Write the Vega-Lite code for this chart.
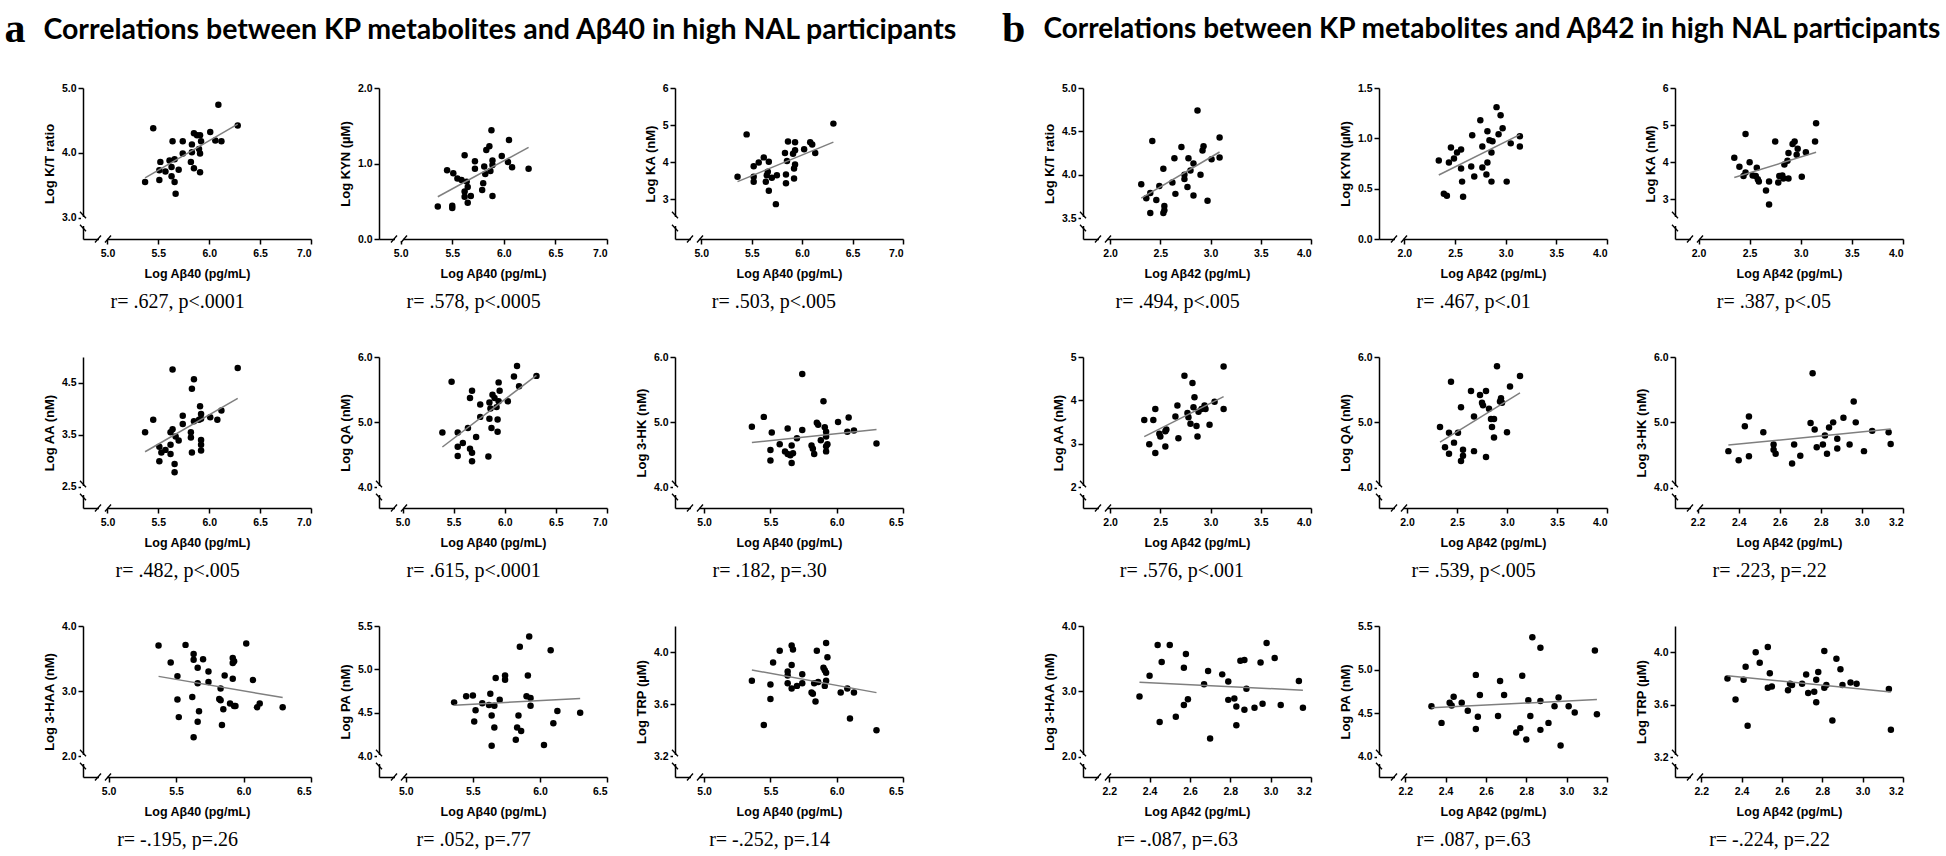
{
  "$schema": "https://vega.github.io/schema/vega-lite/v6.json",
  "padding": {"left": 4, "top": 7, "right": 0, "bottom": 0},
  "background": "white",
  "config": {
    "view": {"stroke": null},
    "axis": {"grid": false, "domainColor": "black", "domainWidth": 1.5, "tickColor": "black", "tickWidth": 1.5, "tickSize": 5,
      "labelFont": "Liberation Sans", "labelFontWeight": "bold", "labelFontSize": 10.5, "labelColor": "black",
      "titleFont": "Liberation Sans", "titleFontWeight": "bold", "titleColor": "black"},
    "axisX": {"titleFontSize": 12.5, "titlePadding": 9, "labelPadding": 4},
    "axisY": {"titleFontSize": 13, "titlePadding": 5, "labelPadding": 2}
  },
  "datasets": {
    "a1": [{"x":5.37,"y":3.55},{"x":5.45,"y":4.38},{"x":5.52,"y":3.86},{"x":5.51,"y":3.73},{"x":5.51,"y":3.58},{"x":5.57,"y":3.71},{"x":5.61,"y":3.88},{"x":5.64,"y":4.18},{"x":5.63,"y":3.78},{"x":5.63,"y":3.64},{"x":5.66,"y":3.90},{"x":5.66,"y":3.55},{"x":5.67,"y":3.37},{"x":5.70,"y":3.74},{"x":5.74,"y":4.18},{"x":5.74,"y":3.99},{"x":5.82,"y":3.86},{"x":5.83,"y":4.13},{"x":5.83,"y":4.01},{"x":5.85,"y":3.76},{"x":5.85,"y":4.30},{"x":5.88,"y":4.27},{"x":5.90,"y":4.06},{"x":5.91,"y":4.27},{"x":5.92,"y":4.18},{"x":5.91,"y":3.99},{"x":5.91,"y":3.70},{"x":6.01,"y":4.32},{"x":6.06,"y":4.19},{"x":6.09,"y":4.74},{"x":6.12,"y":4.18},{"x":6.28,"y":4.42}],
    "a2": [{"x":5.36,"y":0.43},{"x":5.45,"y":0.91},{"x":5.50,"y":0.44},{"x":5.50,"y":0.41},{"x":5.51,"y":0.87},{"x":5.55,"y":0.80},{"x":5.59,"y":0.78},{"x":5.62,"y":0.63},{"x":5.62,"y":0.56},{"x":5.62,"y":1.11},{"x":5.64,"y":0.76},{"x":5.65,"y":0.69},{"x":5.65,"y":0.48},{"x":5.68,"y":0.57},{"x":5.72,"y":1.03},{"x":5.72,"y":0.93},{"x":5.79,"y":0.65},{"x":5.80,"y":0.74},{"x":5.81,"y":0.96},{"x":5.82,"y":0.86},{"x":5.83,"y":1.18},{"x":5.86,"y":1.23},{"x":5.87,"y":0.90},{"x":5.88,"y":1.44},{"x":5.89,"y":0.57},{"x":5.89,"y":1.04},{"x":5.89,"y":0.98},{"x":5.98,"y":1.10},{"x":6.04,"y":1.02},{"x":6.05,"y":1.31},{"x":6.08,"y":0.95},{"x":6.24,"y":0.93}],
    "a3": [{"x":5.36,"y":3.61},{"x":5.45,"y":4.75},{"x":5.52,"y":3.89},{"x":5.52,"y":3.61},{"x":5.52,"y":3.47},{"x":5.57,"y":3.99},{"x":5.62,"y":4.13},{"x":5.64,"y":3.47},{"x":5.65,"y":3.65},{"x":5.66,"y":3.74},{"x":5.67,"y":4.01},{"x":5.67,"y":3.23},{"x":5.70,"y":3.58},{"x":5.74,"y":2.87},{"x":5.75,"y":3.65},{"x":5.83,"y":4.25},{"x":5.84,"y":3.43},{"x":5.84,"y":3.67},{"x":5.85,"y":4.03},{"x":5.86,"y":4.56},{"x":5.91,"y":4.23},{"x":5.92,"y":3.83},{"x":5.92,"y":3.56},{"x":5.93,"y":4.32},{"x":5.93,"y":4.54},{"x":5.93,"y":3.94},{"x":6.02,"y":4.35},{"x":6.08,"y":4.54},{"x":6.10,"y":4.48},{"x":6.13,"y":4.25},{"x":6.31,"y":5.04}],
    "a4": [{"x":5.37,"y":3.55},{"x":5.45,"y":3.79},{"x":5.51,"y":3.27},{"x":5.51,"y":2.99},{"x":5.53,"y":3.16},{"x":5.57,"y":3.21},{"x":5.62,"y":3.55},{"x":5.62,"y":3.31},{"x":5.62,"y":3.13},{"x":5.64,"y":4.76},{"x":5.64,"y":3.61},{"x":5.66,"y":2.94},{"x":5.66,"y":2.78},{"x":5.67,"y":3.47},{"x":5.70,"y":3.39},{"x":5.74,"y":3.71},{"x":5.74,"y":3.87},{"x":5.82,"y":3.55},{"x":5.82,"y":3.45},{"x":5.83,"y":3.16},{"x":5.83,"y":4.39},{"x":5.85,"y":3.76},{"x":5.85,"y":4.57},{"x":5.90,"y":3.79},{"x":5.91,"y":4.05},{"x":5.92,"y":3.90},{"x":5.92,"y":3.40},{"x":5.92,"y":3.31},{"x":5.92,"y":3.20},{"x":5.92,"y":3.81},{"x":6.01,"y":3.84},{"x":6.08,"y":3.79},{"x":6.12,"y":3.97},{"x":6.28,"y":4.79}],
    "a5": [{"x":5.39,"y":4.84},{"x":5.48,"y":5.62},{"x":5.54,"y":4.84},{"x":5.54,"y":4.62},{"x":5.54,"y":4.48},{"x":5.59,"y":4.68},{"x":5.64,"y":4.91},{"x":5.66,"y":5.37},{"x":5.66,"y":4.59},{"x":5.68,"y":5.48},{"x":5.68,"y":4.53},{"x":5.68,"y":4.40},{"x":5.72,"y":4.77},{"x":5.76,"y":5.27},{"x":5.76,"y":5.08},{"x":5.84,"y":4.47},{"x":5.85,"y":5.05},{"x":5.85,"y":5.30},{"x":5.86,"y":5.21},{"x":5.87,"y":4.91},{"x":5.88,"y":5.42},{"x":5.90,"y":5.37},{"x":5.92,"y":5.23},{"x":5.93,"y":5.04},{"x":5.93,"y":4.85},{"x":5.94,"y":5.61},{"x":5.95,"y":5.48},{"x":5.94,"y":5.32},{"x":6.03,"y":5.32},{"x":6.09,"y":5.70},{"x":6.12,"y":5.86},{"x":6.14,"y":5.55},{"x":6.31,"y":5.71}],
    "a6": [{"x":5.36,"y":4.93},{"x":5.45,"y":5.08},{"x":5.51,"y":4.84},{"x":5.50,"y":4.57},{"x":5.50,"y":4.41},{"x":5.57,"y":4.66},{"x":5.61,"y":4.55},{"x":5.63,"y":4.90},{"x":5.63,"y":4.51},{"x":5.65,"y":4.49},{"x":5.66,"y":4.64},{"x":5.66,"y":4.37},{"x":5.67,"y":4.52},{"x":5.70,"y":4.75},{"x":5.74,"y":4.88},{"x":5.74,"y":5.74},{"x":5.81,"y":4.64},{"x":5.82,"y":4.59},{"x":5.83,"y":4.51},{"x":5.85,"y":4.99},{"x":5.86,"y":4.96},{"x":5.88,"y":4.72},{"x":5.90,"y":5.32},{"x":5.91,"y":4.92},{"x":5.92,"y":4.85},{"x":5.92,"y":4.78},{"x":5.92,"y":4.63},{"x":5.92,"y":4.55},{"x":5.93,"y":4.66},{"x":6.01,"y":5.00},{"x":6.08,"y":4.85},{"x":6.09,"y":5.07},{"x":6.13,"y":4.87},{"x":6.30,"y":4.67}],
    "a7": [{"x":5.37,"y":3.70},{"x":5.46,"y":3.44},{"x":5.51,"y":3.23},{"x":5.51,"y":2.87},{"x":5.52,"y":2.60},{"x":5.57,"y":3.71},{"x":5.63,"y":3.57},{"x":5.63,"y":3.48},{"x":5.62,"y":2.91},{"x":5.63,"y":2.29},{"x":5.66,"y":3.36},{"x":5.66,"y":3.12},{"x":5.66,"y":2.53},{"x":5.67,"y":2.69},{"x":5.70,"y":3.49},{"x":5.74,"y":3.30},{"x":5.74,"y":3.14},{"x":5.82,"y":2.88},{"x":5.83,"y":2.86},{"x":5.83,"y":3.04},{"x":5.84,"y":2.48},{"x":5.85,"y":2.72},{"x":5.86,"y":3.24},{"x":5.90,"y":2.81},{"x":5.92,"y":3.51},{"x":5.92,"y":3.19},{"x":5.92,"y":3.43},{"x":5.93,"y":3.46},{"x":5.93,"y":2.77},{"x":5.94,"y":2.77},{"x":6.02,"y":3.73},{"x":6.07,"y":3.17},{"x":6.10,"y":2.75},{"x":6.12,"y":2.81},{"x":6.29,"y":2.75}],
    "a8": [{"x":5.36,"y":4.62},{"x":5.45,"y":4.69},{"x":5.50,"y":4.70},{"x":5.52,"y":4.53},{"x":5.51,"y":4.40},{"x":5.57,"y":4.61},{"x":5.62,"y":4.59},{"x":5.63,"y":4.72},{"x":5.64,"y":4.47},{"x":5.64,"y":4.12},{"x":5.66,"y":4.33},{"x":5.66,"y":4.58},{"x":5.67,"y":4.90},{"x":5.70,"y":4.65},{"x":5.74,"y":4.93},{"x":5.74,"y":4.88},{"x":5.82,"y":4.19},{"x":5.83,"y":4.33},{"x":5.84,"y":4.47},{"x":5.86,"y":4.29},{"x":5.85,"y":5.26},{"x":5.91,"y":4.93},{"x":5.90,"y":4.69},{"x":5.92,"y":5.38},{"x":5.93,"y":4.58},{"x":5.93,"y":4.67},{"x":6.03,"y":4.13},{"x":6.08,"y":5.22},{"x":6.10,"y":4.38},{"x":6.13,"y":4.52},{"x":6.30,"y":4.50}],
    "a9": [{"x":5.36,"y":3.78},{"x":5.45,"y":3.44},{"x":5.50,"y":3.75},{"x":5.50,"y":3.64},{"x":5.52,"y":3.92},{"x":5.57,"y":4.01},{"x":5.63,"y":3.85},{"x":5.63,"y":3.82},{"x":5.63,"y":3.76},{"x":5.66,"y":4.05},{"x":5.67,"y":4.02},{"x":5.66,"y":3.90},{"x":5.66,"y":3.72},{"x":5.70,"y":3.74},{"x":5.74,"y":3.83},{"x":5.74,"y":3.76},{"x":5.81,"y":3.69},{"x":5.82,"y":3.68},{"x":5.84,"y":3.62},{"x":5.83,"y":3.76},{"x":5.85,"y":4.01},{"x":5.86,"y":3.77},{"x":5.90,"y":3.88},{"x":5.91,"y":3.86},{"x":5.92,"y":4.07},{"x":5.93,"y":3.96},{"x":5.92,"y":3.84},{"x":5.92,"y":3.78},{"x":5.91,"y":3.74},{"x":6.03,"y":3.69},{"x":6.08,"y":3.72},{"x":6.10,"y":3.49},{"x":6.13,"y":3.69},{"x":6.30,"y":3.40}],
    "b1": [{"x":2.31,"y":3.89},{"x":2.36,"y":3.73},{"x":2.40,"y":3.79},{"x":2.40,"y":3.56},{"x":2.42,"y":4.39},{"x":2.46,"y":3.71},{"x":2.49,"y":3.87},{"x":2.53,"y":4.07},{"x":2.54,"y":3.64},{"x":2.53,"y":3.56},{"x":2.54,"y":3.59},{"x":2.62,"y":3.91},{"x":2.64,"y":4.19},{"x":2.65,"y":3.78},{"x":2.71,"y":4.32},{"x":2.74,"y":4.00},{"x":2.74,"y":3.95},{"x":2.77,"y":3.86},{"x":2.78,"y":4.19},{"x":2.80,"y":4.05},{"x":2.83,"y":4.13},{"x":2.83,"y":3.76},{"x":2.87,"y":4.74},{"x":2.90,"y":4.00},{"x":2.93,"y":4.33},{"x":2.92,"y":4.28},{"x":2.97,"y":3.70},{"x":3.01,"y":4.18},{"x":3.09,"y":4.43},{"x":3.09,"y":4.20}],
    "b2": [{"x":2.34,"y":0.78},{"x":2.39,"y":0.45},{"x":2.42,"y":0.43},{"x":2.44,"y":0.76},{"x":2.46,"y":0.91},{"x":2.49,"y":0.80},{"x":2.52,"y":0.86},{"x":2.56,"y":0.89},{"x":2.56,"y":0.70},{"x":2.57,"y":0.57},{"x":2.58,"y":0.42},{"x":2.67,"y":1.03},{"x":2.66,"y":0.72},{"x":2.69,"y":0.62},{"x":2.75,"y":1.18},{"x":2.77,"y":0.92},{"x":2.77,"y":0.71},{"x":2.81,"y":0.64},{"x":2.82,"y":1.07},{"x":2.82,"y":0.76},{"x":2.84,"y":0.98},{"x":2.87,"y":0.97},{"x":2.86,"y":0.86},{"x":2.86,"y":0.57},{"x":2.91,"y":1.31},{"x":2.93,"y":1.04},{"x":2.95,"y":1.23},{"x":2.97,"y":1.10},{"x":3.01,"y":0.57},{"x":3.05,"y":0.95},{"x":3.14,"y":1.02},{"x":3.14,"y":0.92}],
    "b3": [{"x":2.35,"y":4.12},{"x":2.40,"y":3.88},{"x":2.44,"y":3.63},{"x":2.46,"y":4.76},{"x":2.46,"y":3.72},{"x":2.50,"y":4.00},{"x":2.53,"y":3.64},{"x":2.57,"y":3.85},{"x":2.56,"y":3.63},{"x":2.58,"y":3.54},{"x":2.59,"y":3.48},{"x":2.66,"y":3.24},{"x":2.69,"y":2.86},{"x":2.69,"y":3.48},{"x":2.75,"y":4.56},{"x":2.78,"y":3.45},{"x":2.79,"y":3.63},{"x":2.82,"y":3.64},{"x":2.83,"y":3.56},{"x":2.84,"y":3.94},{"x":2.87,"y":4.04},{"x":2.88,"y":3.56},{"x":2.88,"y":4.25},{"x":2.92,"y":4.49},{"x":2.94,"y":4.56},{"x":2.96,"y":4.20},{"x":2.97,"y":4.36},{"x":3.01,"y":3.61},{"x":3.05,"y":4.27},{"x":3.14,"y":4.56},{"x":3.15,"y":5.05}],
    "b4": [{"x":2.34,"y":3.55},{"x":2.39,"y":2.99},{"x":2.43,"y":3.55},{"x":2.45,"y":3.80},{"x":2.45,"y":2.79},{"x":2.49,"y":3.23},{"x":2.50,"y":3.17},{"x":2.55,"y":3.29},{"x":2.56,"y":3.33},{"x":2.55,"y":2.94},{"x":2.65,"y":3.63},{"x":2.67,"y":3.88},{"x":2.68,"y":3.13},{"x":2.74,"y":4.57},{"x":2.77,"y":3.71},{"x":2.78,"y":3.61},{"x":2.80,"y":3.46},{"x":2.82,"y":4.40},{"x":2.83,"y":3.84},{"x":2.84,"y":4.07},{"x":2.86,"y":3.41},{"x":2.87,"y":3.17},{"x":2.88,"y":3.74},{"x":2.91,"y":3.80},{"x":2.94,"y":3.88},{"x":2.95,"y":3.80},{"x":2.99,"y":3.44},{"x":3.04,"y":3.97},{"x":3.13,"y":4.78},{"x":3.13,"y":3.80}],
    "b5": [{"x":2.33,"y":4.93},{"x":2.38,"y":4.62},{"x":2.42,"y":4.84},{"x":2.42,"y":4.52},{"x":2.44,"y":5.62},{"x":2.47,"y":4.69},{"x":2.51,"y":4.84},{"x":2.54,"y":5.23},{"x":2.56,"y":4.58},{"x":2.56,"y":4.49},{"x":2.54,"y":4.41},{"x":2.64,"y":5.48},{"x":2.67,"y":5.09},{"x":2.67,"y":4.56},{"x":2.73,"y":5.42},{"x":2.75,"y":5.30},{"x":2.76,"y":5.26},{"x":2.79,"y":5.48},{"x":2.79,"y":4.47},{"x":2.82,"y":5.21},{"x":2.84,"y":5.05},{"x":2.87,"y":5.05},{"x":2.85,"y":4.93},{"x":2.87,"y":4.77},{"x":2.90,"y":5.86},{"x":2.93,"y":5.32},{"x":2.94,"y":5.37},{"x":2.95,"y":5.30},{"x":3.00,"y":4.85},{"x":3.03,"y":5.55},{"x":3.13,"y":5.71}],
    "b6": [{"x":2.35,"y":4.56},{"x":2.40,"y":4.42},{"x":2.43,"y":4.94},{"x":2.45,"y":5.09},{"x":2.45,"y":4.48},{"x":2.52,"y":4.85},{"x":2.57,"y":4.66},{"x":2.57,"y":4.58},{"x":2.58,"y":4.52},{"x":2.67,"y":4.66},{"x":2.66,"y":4.37},{"x":2.70,"y":4.49},{"x":2.76,"y":5.75},{"x":2.75,"y":4.99},{"x":2.77,"y":4.89},{"x":2.78,"y":4.62},{"x":2.81,"y":4.66},{"x":2.82,"y":4.80},{"x":2.83,"y":4.52},{"x":2.84,"y":4.92},{"x":2.86,"y":5.00},{"x":2.88,"y":4.75},{"x":2.88,"y":4.60},{"x":2.91,"y":5.07},{"x":2.94,"y":4.66},{"x":2.96,"y":5.32},{"x":2.97,"y":5.00},{"x":3.01,"y":4.56},{"x":3.05,"y":4.87},{"x":3.13,"y":4.85},{"x":3.14,"y":4.67}],
    "b7": [{"x":2.35,"y":2.92},{"x":2.40,"y":3.24},{"x":2.44,"y":3.71},{"x":2.45,"y":2.53},{"x":2.46,"y":3.45},{"x":2.50,"y":3.71},{"x":2.53,"y":2.61},{"x":2.57,"y":3.36},{"x":2.58,"y":3.57},{"x":2.57,"y":2.79},{"x":2.59,"y":2.88},{"x":2.67,"y":3.11},{"x":2.69,"y":3.31},{"x":2.70,"y":2.28},{"x":2.76,"y":3.26},{"x":2.79,"y":3.15},{"x":2.79,"y":2.87},{"x":2.82,"y":2.89},{"x":2.83,"y":2.77},{"x":2.83,"y":2.48},{"x":2.85,"y":3.47},{"x":2.87,"y":3.48},{"x":2.88,"y":3.04},{"x":2.87,"y":2.72},{"x":2.92,"y":2.75},{"x":2.95,"y":3.44},{"x":2.96,"y":2.81},{"x":2.98,"y":3.74},{"x":3.02,"y":3.51},{"x":3.05,"y":2.79},{"x":3.14,"y":3.16},{"x":3.16,"y":2.75}],
    "b8": [{"x":2.33,"y":4.58},{"x":2.38,"y":4.39},{"x":2.42,"y":4.62},{"x":2.43,"y":4.59},{"x":2.44,"y":4.69},{"x":2.48,"y":4.62},{"x":2.51,"y":4.53},{"x":2.55,"y":4.32},{"x":2.56,"y":4.46},{"x":2.55,"y":4.94},{"x":2.57,"y":4.71},{"x":2.66,"y":4.47},{"x":2.67,"y":4.87},{"x":2.69,"y":4.71},{"x":2.75,"y":4.28},{"x":2.77,"y":4.33},{"x":2.78,"y":4.93},{"x":2.80,"y":4.20},{"x":2.81,"y":4.65},{"x":2.82,"y":4.47},{"x":2.83,"y":5.37},{"x":2.87,"y":5.25},{"x":2.87,"y":4.64},{"x":2.87,"y":4.31},{"x":2.91,"y":4.39},{"x":2.94,"y":4.58},{"x":2.96,"y":4.68},{"x":2.97,"y":4.13},{"x":3.01,"y":4.58},{"x":3.04,"y":4.51},{"x":3.14,"y":5.22},{"x":3.15,"y":4.49}],
    "b9": [{"x":2.33,"y":3.80},{"x":2.37,"y":3.64},{"x":2.41,"y":3.79},{"x":2.42,"y":3.89},{"x":2.43,"y":3.44},{"x":2.47,"y":4.00},{"x":2.49,"y":3.92},{"x":2.53,"y":4.04},{"x":2.54,"y":3.84},{"x":2.53,"y":3.73},{"x":2.55,"y":3.74},{"x":2.63,"y":3.71},{"x":2.64,"y":3.76},{"x":2.65,"y":3.75},{"x":2.70,"y":3.76},{"x":2.72,"y":3.83},{"x":2.73,"y":3.69},{"x":2.76,"y":3.70},{"x":2.77,"y":3.79},{"x":2.77,"y":3.62},{"x":2.78,"y":3.85},{"x":2.81,"y":3.73},{"x":2.82,"y":3.75},{"x":2.81,"y":4.01},{"x":2.85,"y":3.48},{"x":2.87,"y":3.95},{"x":2.89,"y":3.87},{"x":2.90,"y":3.75},{"x":2.94,"y":3.77},{"x":2.97,"y":3.76},{"x":3.13,"y":3.72},{"x":3.14,"y":3.41}]
  },
  "spacing": 43,
  "hconcat": [
    {
      "title": {"text": "a", "orient": "left", "angle": 0, "anchor": "end", "frame": "bounds", "align": "left", "baseline": "top", "font": "Liberation Serif", "fontWeight": "bold", "fontSize": 42, "color": "black", "offset": 18, "dy": -7},
      "vconcat": [
        {
          "title": {"text": "Correlations between KP metabolites and Aβ40 in high NAL participants", "anchor": "start", "frame": "bounds", "font": "Lato", "fontWeight": "bold", "fontSize": 28.5, "color": "black", "offset": 39},
          "columns": 3,
          "spacing": {"row": 40, "column": 27},
          "concat": [
            {"width": 228, "height": 151, "data": {"name": "a1"},
             "title": {"text": "r= .627, p<.0001", "orient": "bottom", "frame": "bounds", "anchor": "middle", "font": "Liberation Serif", "fontSize": 20, "fontWeight": "normal", "color": "black", "offset": 12},
             "layer": [
               {"mark": {"type": "circle", "size": 42, "color": "black", "opacity": 1},
                "encoding": {"x": {"field": "x", "type": "quantitative", "scale": {"domain": [4.76, 7.0], "nice": false, "zero": false}, "axis": {"title": "Log Aβ40 (pg/mL)", "values": [5, 5.5, 6, 6.5, 7], "format": ".1f"}},
                             "y": {"field": "y", "type": "quantitative", "scale": {"domain": [2.67, 5.0], "nice": false, "zero": false}, "axis": {"title": "Log K/T ratio", "values": [3, 3.5, 4, 4.5, 5], "format": ".1f"}}}},
               {"mark": {"type": "line", "color": "#7f7f7f", "strokeWidth": 1.5}, "transform": [{"regression": "y", "on": "x"}],
                "encoding": {"x": {"field": "x", "type": "quantitative"}, "y": {"field": "y", "type": "quantitative"}}},
               {"data": {"values": [{}]}, "mark": {"type": "rule", "color": "white", "strokeWidth": 4}, "encoding": {"x": {"datum": 4.76}, "y": {"datum": 2.8706}, "y2": {"datum": 3.0095}}},
               {"data": {"values": [{}]}, "mark": {"type": "rule", "color": "white", "strokeWidth": 4}, "encoding": {"y": {"datum": 2.67}, "x": {"datum": 4.9172}, "x2": {"datum": 4.9958}}},
               {"data": {"values": [{}]}, "mark": {"type": "rule", "color": "black", "strokeWidth": 1.3}, "encoding": {"x": {"datum": 4.7305}, "x2": {"datum": 4.7895}, "y": {"datum": 3.0912}, "y2": {"datum": 2.9894}}},
               {"data": {"values": [{}]}, "mark": {"type": "rule", "color": "black", "strokeWidth": 1.3}, "encoding": {"x": {"datum": 4.7305}, "x2": {"datum": 4.7895}, "y": {"datum": 2.8906}, "y2": {"datum": 2.7888}}},
               {"data": {"values": [{}]}, "mark": {"type": "rule", "color": "black", "strokeWidth": 1.3}, "encoding": {"x": {"datum": 4.8779}, "x2": {"datum": 4.9369}, "y": {"datum": 2.616}, "y2": {"datum": 2.724}}},
               {"data": {"values": [{}]}, "mark": {"type": "rule", "color": "black", "strokeWidth": 1.3}, "encoding": {"x": {"datum": 4.9761}, "x2": {"datum": 5.0351}, "y": {"datum": 2.616}, "y2": {"datum": 2.724}}}
             ]},
            {"width": 228, "height": 151, "data": {"name": "a2"},
             "title": {"text": "r= .578, p<.0005", "orient": "bottom", "frame": "bounds", "anchor": "middle", "font": "Liberation Serif", "fontSize": 20, "fontWeight": "normal", "color": "black", "offset": 12},
             "layer": [
               {"mark": {"type": "circle", "size": 42, "color": "black", "opacity": 1},
                "encoding": {"x": {"field": "x", "type": "quantitative", "scale": {"domain": [4.79, 7.0], "nice": false, "zero": false}, "axis": {"title": "Log Aβ40 (pg/mL)", "values": [5, 5.5, 6, 6.5, 7], "format": ".1f"}},
                             "y": {"field": "y", "type": "quantitative", "scale": {"domain": [0, 2.0], "nice": false, "zero": false}, "axis": {"title": "Log KYN (µM)", "values": [0, 0.5, 1, 1.5, 2], "format": ".1f"}}}},
               {"mark": {"type": "line", "color": "#7f7f7f", "strokeWidth": 1.5}, "transform": [{"regression": "y", "on": "x"}],
                "encoding": {"x": {"field": "x", "type": "quantitative"}, "y": {"field": "y", "type": "quantitative"}}},
               {"data": {"values": [{}]}, "mark": {"type": "rule", "color": "white", "strokeWidth": 4}, "encoding": {"y": {"datum": 0}, "x": {"datum": 4.9451}, "x2": {"datum": 5.0226}}},
               {"data": {"values": [{}]}, "mark": {"type": "rule", "color": "black", "strokeWidth": 1.3}, "encoding": {"x": {"datum": 4.9063}, "x2": {"datum": 4.9645}, "y": {"datum": -0.0464}, "y2": {"datum": 0.0464}}},
               {"data": {"values": [{}]}, "mark": {"type": "rule", "color": "black", "strokeWidth": 1.3}, "encoding": {"x": {"datum": 5.0032}, "x2": {"datum": 5.0614}, "y": {"datum": -0.0464}, "y2": {"datum": 0.0464}}}
             ]},
            {"width": 228, "height": 151, "data": {"name": "a3"},
             "title": {"text": "r= .503, p<.005", "orient": "bottom", "frame": "bounds", "anchor": "middle", "font": "Liberation Serif", "fontSize": 20, "fontWeight": "normal", "color": "black", "offset": 12},
             "layer": [
               {"mark": {"type": "circle", "size": 42, "color": "black", "opacity": 1},
                "encoding": {"x": {"field": "x", "type": "quantitative", "scale": {"domain": [4.74, 7.0], "nice": false, "zero": false}, "axis": {"title": "Log Aβ40 (pg/mL)", "values": [5, 5.5, 6, 6.5, 7], "format": ".1f"}},
                             "y": {"field": "y", "type": "quantitative", "scale": {"domain": [1.93, 6.0], "nice": false, "zero": false}, "axis": {"title": "Log KA (nM)", "values": [3, 4, 5, 6], "format": "d"}}}},
               {"mark": {"type": "line", "color": "#7f7f7f", "strokeWidth": 1.5}, "transform": [{"regression": "y", "on": "x"}],
                "encoding": {"x": {"field": "x", "type": "quantitative"}, "y": {"field": "y", "type": "quantitative"}}},
               {"data": {"values": [{}]}, "mark": {"type": "rule", "color": "white", "strokeWidth": 4}, "encoding": {"x": {"datum": 4.74}, "y": {"datum": 2.2804}, "y2": {"datum": 2.5230}}},
               {"data": {"values": [{}]}, "mark": {"type": "rule", "color": "white", "strokeWidth": 4}, "encoding": {"y": {"datum": 1.93}, "x": {"datum": 4.8986}, "x2": {"datum": 4.9779}}},
               {"data": {"values": [{}]}, "mark": {"type": "rule", "color": "black", "strokeWidth": 1.3}, "encoding": {"x": {"datum": 4.7103}, "x2": {"datum": 4.7697}, "y": {"datum": 2.6658}, "y2": {"datum": 2.4880}}},
               {"data": {"values": [{}]}, "mark": {"type": "rule", "color": "black", "strokeWidth": 1.3}, "encoding": {"x": {"datum": 4.7103}, "x2": {"datum": 4.7697}, "y": {"datum": 2.3154}, "y2": {"datum": 2.1376}}},
               {"data": {"values": [{}]}, "mark": {"type": "rule", "color": "black", "strokeWidth": 1.3}, "encoding": {"x": {"datum": 4.8590}, "x2": {"datum": 4.9184}, "y": {"datum": 1.8357}, "y2": {"datum": 2.0243}}},
               {"data": {"values": [{}]}, "mark": {"type": "rule", "color": "black", "strokeWidth": 1.3}, "encoding": {"x": {"datum": 4.9581}, "x2": {"datum": 5.0175}, "y": {"datum": 1.8357}, "y2": {"datum": 2.0243}}}
             ]},
            {"width": 228, "height": 151, "data": {"name": "a4"},
             "title": {"text": "r= .482, p<.005", "orient": "bottom", "frame": "bounds", "anchor": "middle", "font": "Liberation Serif", "fontSize": 20, "fontWeight": "normal", "color": "black", "offset": 12},
             "layer": [
               {"mark": {"type": "circle", "size": 42, "color": "black", "opacity": 1},
                "encoding": {"x": {"field": "x", "type": "quantitative", "scale": {"domain": [4.76, 7.0], "nice": false, "zero": false}, "axis": {"title": "Log Aβ40 (pg/mL)", "values": [5, 5.5, 6, 6.5, 7], "format": ".1f"}},
                             "y": {"field": "y", "type": "quantitative", "scale": {"domain": [2.09, 5.0], "nice": false, "zero": false}, "axis": {"title": "Log AA (nM)", "values": [2.5, 3, 3.5, 4, 4.5, 5], "format": ".1f"}}}},
               {"mark": {"type": "line", "color": "#7f7f7f", "strokeWidth": 1.5}, "transform": [{"regression": "y", "on": "x"}],
                "encoding": {"x": {"field": "x", "type": "quantitative"}, "y": {"field": "y", "type": "quantitative"}}},
               {"data": {"values": [{}]}, "mark": {"type": "rule", "color": "white", "strokeWidth": 4}, "encoding": {"x": {"datum": 4.76}, "y": {"datum": 2.3405}, "y2": {"datum": 2.5140}}},
               {"data": {"values": [{}]}, "mark": {"type": "rule", "color": "white", "strokeWidth": 4}, "encoding": {"y": {"datum": 2.09}, "x": {"datum": 4.9172}, "x2": {"datum": 4.9958}}},
               {"data": {"values": [{}]}, "mark": {"type": "rule", "color": "black", "strokeWidth": 1.3}, "encoding": {"x": {"datum": 4.7305}, "x2": {"datum": 4.7895}, "y": {"datum": 2.6161}, "y2": {"datum": 2.4889}}},
               {"data": {"values": [{}]}, "mark": {"type": "rule", "color": "black", "strokeWidth": 1.3}, "encoding": {"x": {"datum": 4.7305}, "x2": {"datum": 4.7895}, "y": {"datum": 2.3656}, "y2": {"datum": 2.2384}}},
               {"data": {"values": [{}]}, "mark": {"type": "rule", "color": "black", "strokeWidth": 1.3}, "encoding": {"x": {"datum": 4.8779}, "x2": {"datum": 4.9369}, "y": {"datum": 2.0225}, "y2": {"datum": 2.1575}}},
               {"data": {"values": [{}]}, "mark": {"type": "rule", "color": "black", "strokeWidth": 1.3}, "encoding": {"x": {"datum": 4.9761}, "x2": {"datum": 5.0351}, "y": {"datum": 2.0225}, "y2": {"datum": 2.1575}}}
             ]},
            {"width": 228, "height": 151, "data": {"name": "a5"},
             "title": {"text": "r= .615, p<.0001", "orient": "bottom", "frame": "bounds", "anchor": "middle", "font": "Liberation Serif", "fontSize": 20, "fontWeight": "normal", "color": "black", "offset": 12},
             "layer": [
               {"mark": {"type": "circle", "size": 42, "color": "black", "opacity": 1},
                "encoding": {"x": {"field": "x", "type": "quantitative", "scale": {"domain": [4.77, 7.0], "nice": false, "zero": false}, "axis": {"title": "Log Aβ40 (pg/mL)", "values": [5, 5.5, 6, 6.5, 7], "format": ".1f"}},
                             "y": {"field": "y", "type": "quantitative", "scale": {"domain": [3.68, 6.0], "nice": false, "zero": false}, "axis": {"title": "Log QA (nM)", "values": [4, 4.5, 5, 5.5, 6], "format": ".1f"}}}},
               {"mark": {"type": "line", "color": "#7f7f7f", "strokeWidth": 1.5}, "transform": [{"regression": "y", "on": "x"}],
                "encoding": {"x": {"field": "x", "type": "quantitative"}, "y": {"field": "y", "type": "quantitative"}}},
               {"data": {"values": [{}]}, "mark": {"type": "rule", "color": "white", "strokeWidth": 4}, "encoding": {"x": {"datum": 4.77}, "y": {"datum": 3.8797}, "y2": {"datum": 4.0180}}},
               {"data": {"values": [{}]}, "mark": {"type": "rule", "color": "white", "strokeWidth": 4}, "encoding": {"y": {"datum": 3.68}, "x": {"datum": 4.9265}, "x2": {"datum": 5.0047}}},
               {"data": {"values": [{}]}, "mark": {"type": "rule", "color": "black", "strokeWidth": 1.3}, "encoding": {"x": {"datum": 4.7407}, "x2": {"datum": 4.7993}, "y": {"datum": 4.0994}, "y2": {"datum": 3.9980}}},
               {"data": {"values": [{}]}, "mark": {"type": "rule", "color": "black", "strokeWidth": 1.3}, "encoding": {"x": {"datum": 4.7407}, "x2": {"datum": 4.7993}, "y": {"datum": 3.8997}, "y2": {"datum": 3.7983}}},
               {"data": {"values": [{}]}, "mark": {"type": "rule", "color": "black", "strokeWidth": 1.3}, "encoding": {"x": {"datum": 4.8874}, "x2": {"datum": 4.9460}, "y": {"datum": 3.6262}, "y2": {"datum": 3.7338}}},
               {"data": {"values": [{}]}, "mark": {"type": "rule", "color": "black", "strokeWidth": 1.3}, "encoding": {"x": {"datum": 4.9852}, "x2": {"datum": 5.0438}, "y": {"datum": 3.6262}, "y2": {"datum": 3.7338}}}
             ]},
            {"width": 228, "height": 151, "data": {"name": "a6"},
             "title": {"text": "r= .182, p=.30", "orient": "bottom", "frame": "bounds", "anchor": "middle", "font": "Liberation Serif", "fontSize": 20, "fontWeight": "normal", "color": "black", "offset": 12},
             "layer": [
               {"mark": {"type": "circle", "size": 42, "color": "black", "opacity": 1},
                "encoding": {"x": {"field": "x", "type": "quantitative", "scale": {"domain": [4.78, 6.5], "nice": false, "zero": false}, "axis": {"title": "Log Aβ40 (pg/mL)", "values": [5, 5.5, 6, 6.5], "format": ".1f"}},
                             "y": {"field": "y", "type": "quantitative", "scale": {"domain": [3.68, 6.0], "nice": false, "zero": false}, "axis": {"title": "Log 3-HK (nM)", "values": [4, 4.5, 5, 5.5, 6], "format": ".1f"}}}},
               {"mark": {"type": "line", "color": "#7f7f7f", "strokeWidth": 1.5}, "transform": [{"regression": "y", "on": "x"}],
                "encoding": {"x": {"field": "x", "type": "quantitative"}, "y": {"field": "y", "type": "quantitative"}}},
               {"data": {"values": [{}]}, "mark": {"type": "rule", "color": "white", "strokeWidth": 4}, "encoding": {"x": {"datum": 4.78}, "y": {"datum": 3.8797}, "y2": {"datum": 4.0180}}},
               {"data": {"values": [{}]}, "mark": {"type": "rule", "color": "white", "strokeWidth": 4}, "encoding": {"y": {"datum": 3.68}, "x": {"datum": 4.9007}, "x2": {"datum": 4.9611}}},
               {"data": {"values": [{}]}, "mark": {"type": "rule", "color": "black", "strokeWidth": 1.3}, "encoding": {"x": {"datum": 4.7574}, "x2": {"datum": 4.8026}, "y": {"datum": 4.0994}, "y2": {"datum": 3.9980}}},
               {"data": {"values": [{}]}, "mark": {"type": "rule", "color": "black", "strokeWidth": 1.3}, "encoding": {"x": {"datum": 4.7574}, "x2": {"datum": 4.8026}, "y": {"datum": 3.8997}, "y2": {"datum": 3.7983}}},
               {"data": {"values": [{}]}, "mark": {"type": "rule", "color": "black", "strokeWidth": 1.3}, "encoding": {"x": {"datum": 4.8706}, "x2": {"datum": 4.9158}, "y": {"datum": 3.6262}, "y2": {"datum": 3.7338}}},
               {"data": {"values": [{}]}, "mark": {"type": "rule", "color": "black", "strokeWidth": 1.3}, "encoding": {"x": {"datum": 4.9460}, "x2": {"datum": 4.9912}, "y": {"datum": 3.6262}, "y2": {"datum": 3.7338}}}
             ]},
            {"width": 228, "height": 151, "data": {"name": "a7"},
             "title": {"text": "r= -.195, p=.26", "orient": "bottom", "frame": "bounds", "anchor": "middle", "font": "Liberation Serif", "fontSize": 20, "fontWeight": "normal", "color": "black", "offset": 12},
             "layer": [
               {"mark": {"type": "circle", "size": 42, "color": "black", "opacity": 1},
                "encoding": {"x": {"field": "x", "type": "quantitative", "scale": {"domain": [4.81, 6.5], "nice": false, "zero": false}, "axis": {"title": "Log Aβ40 (pg/mL)", "values": [5, 5.5, 6, 6.5], "format": ".1f"}},
                             "y": {"field": "y", "type": "quantitative", "scale": {"domain": [1.68, 4.0], "nice": false, "zero": false}, "axis": {"title": "Log 3-HAA (nM)", "values": [2, 2.5, 3, 3.5, 4], "format": ".1f"}}}},
               {"mark": {"type": "line", "color": "#7f7f7f", "strokeWidth": 1.5}, "transform": [{"regression": "y", "on": "x"}],
                "encoding": {"x": {"field": "x", "type": "quantitative"}, "y": {"field": "y", "type": "quantitative"}}},
               {"data": {"values": [{}]}, "mark": {"type": "rule", "color": "white", "strokeWidth": 4}, "encoding": {"x": {"datum": 4.81}, "y": {"datum": 1.8797}, "y2": {"datum": 2.0180}}},
               {"data": {"values": [{}]}, "mark": {"type": "rule", "color": "white", "strokeWidth": 4}, "encoding": {"y": {"datum": 1.68}, "x": {"datum": 4.9286}, "x2": {"datum": 4.9879}}},
               {"data": {"values": [{}]}, "mark": {"type": "rule", "color": "black", "strokeWidth": 1.3}, "encoding": {"x": {"datum": 4.7878}, "x2": {"datum": 4.8322}, "y": {"datum": 2.0994}, "y2": {"datum": 1.9980}}},
               {"data": {"values": [{}]}, "mark": {"type": "rule", "color": "black", "strokeWidth": 1.3}, "encoding": {"x": {"datum": 4.7878}, "x2": {"datum": 4.8322}, "y": {"datum": 1.8997}, "y2": {"datum": 1.7983}}},
               {"data": {"values": [{}]}, "mark": {"type": "rule", "color": "black", "strokeWidth": 1.3}, "encoding": {"x": {"datum": 4.8990}, "x2": {"datum": 4.9434}, "y": {"datum": 1.6262}, "y2": {"datum": 1.7338}}},
               {"data": {"values": [{}]}, "mark": {"type": "rule", "color": "black", "strokeWidth": 1.3}, "encoding": {"x": {"datum": 4.9731}, "x2": {"datum": 5.0175}, "y": {"datum": 1.6262}, "y2": {"datum": 1.7338}}}
             ]},
            {"width": 228, "height": 151, "data": {"name": "a8"},
             "title": {"text": "r= .052, p=.77", "orient": "bottom", "frame": "bounds", "anchor": "middle", "font": "Liberation Serif", "fontSize": 20, "fontWeight": "normal", "color": "black", "offset": 12},
             "layer": [
               {"mark": {"type": "circle", "size": 42, "color": "black", "opacity": 1},
                "encoding": {"x": {"field": "x", "type": "quantitative", "scale": {"domain": [4.8, 6.5], "nice": false, "zero": false}, "axis": {"title": "Log Aβ40 (pg/mL)", "values": [5, 5.5, 6, 6.5], "format": ".1f"}},
                             "y": {"field": "y", "type": "quantitative", "scale": {"domain": [3.76, 5.5], "nice": false, "zero": false}, "axis": {"title": "Log PA (nM)", "values": [4, 4.5, 5, 5.5], "format": ".1f"}}}},
               {"mark": {"type": "line", "color": "#7f7f7f", "strokeWidth": 1.5}, "transform": [{"regression": "y", "on": "x"}],
                "encoding": {"x": {"field": "x", "type": "quantitative"}, "y": {"field": "y", "type": "quantitative"}}},
               {"data": {"values": [{}]}, "mark": {"type": "rule", "color": "white", "strokeWidth": 4}, "encoding": {"x": {"datum": 4.8}, "y": {"datum": 3.9098}, "y2": {"datum": 4.0135}}},
               {"data": {"values": [{}]}, "mark": {"type": "rule", "color": "white", "strokeWidth": 4}, "encoding": {"y": {"datum": 3.76}, "x": {"datum": 4.9193}, "x2": {"datum": 4.9789}}},
               {"data": {"values": [{}]}, "mark": {"type": "rule", "color": "black", "strokeWidth": 1.3}, "encoding": {"x": {"datum": 4.7776}, "x2": {"datum": 4.8224}, "y": {"datum": 4.0746}, "y2": {"datum": 3.9986}}},
               {"data": {"values": [{}]}, "mark": {"type": "rule", "color": "black", "strokeWidth": 1.3}, "encoding": {"x": {"datum": 4.7776}, "x2": {"datum": 4.8224}, "y": {"datum": 3.9248}, "y2": {"datum": 3.8488}}},
               {"data": {"values": [{}]}, "mark": {"type": "rule", "color": "black", "strokeWidth": 1.3}, "encoding": {"x": {"datum": 4.8894}, "x2": {"datum": 4.9342}, "y": {"datum": 3.7197}, "y2": {"datum": 3.8003}}},
               {"data": {"values": [{}]}, "mark": {"type": "rule", "color": "black", "strokeWidth": 1.3}, "encoding": {"x": {"datum": 4.9640}, "x2": {"datum": 5.0088}, "y": {"datum": 3.7197}, "y2": {"datum": 3.8003}}}
             ]},
            {"width": 228, "height": 151, "data": {"name": "a9"},
             "title": {"text": "r= -.252, p=.14", "orient": "bottom", "frame": "bounds", "anchor": "middle", "font": "Liberation Serif", "fontSize": 20, "fontWeight": "normal", "color": "black", "offset": 12},
             "layer": [
               {"mark": {"type": "circle", "size": 42, "color": "black", "opacity": 1},
                "encoding": {"x": {"field": "x", "type": "quantitative", "scale": {"domain": [4.78, 6.5], "nice": false, "zero": false}, "axis": {"title": "Log Aβ40 (pg/mL)", "values": [5, 5.5, 6, 6.5], "format": ".1f"}},
                             "y": {"field": "y", "type": "quantitative", "scale": {"domain": [3.04, 4.2], "nice": false, "zero": false}, "axis": {"title": "Log TRP (µM)", "values": [3.2, 3.4, 3.6, 3.8, 4.0, 4.2], "format": ".1f"}}}},
               {"mark": {"type": "line", "color": "#7f7f7f", "strokeWidth": 1.5}, "transform": [{"regression": "y", "on": "x"}],
                "encoding": {"x": {"field": "x", "type": "quantitative"}, "y": {"field": "y", "type": "quantitative"}}},
               {"data": {"values": [{}]}, "mark": {"type": "rule", "color": "white", "strokeWidth": 4}, "encoding": {"x": {"datum": 4.78}, "y": {"datum": 3.1399}, "y2": {"datum": 3.2090}}},
               {"data": {"values": [{}]}, "mark": {"type": "rule", "color": "white", "strokeWidth": 4}, "encoding": {"y": {"datum": 3.04}, "x": {"datum": 4.9007}, "x2": {"datum": 4.9611}}},
               {"data": {"values": [{}]}, "mark": {"type": "rule", "color": "black", "strokeWidth": 1.3}, "encoding": {"x": {"datum": 4.7574}, "x2": {"datum": 4.8026}, "y": {"datum": 3.2498}, "y2": {"datum": 3.1990}}},
               {"data": {"values": [{}]}, "mark": {"type": "rule", "color": "black", "strokeWidth": 1.3}, "encoding": {"x": {"datum": 4.7574}, "x2": {"datum": 4.8026}, "y": {"datum": 3.1499}, "y2": {"datum": 3.0991}}},
               {"data": {"values": [{}]}, "mark": {"type": "rule", "color": "black", "strokeWidth": 1.3}, "encoding": {"x": {"datum": 4.8706}, "x2": {"datum": 4.9158}, "y": {"datum": 3.0131}, "y2": {"datum": 3.0669}}},
               {"data": {"values": [{}]}, "mark": {"type": "rule", "color": "black", "strokeWidth": 1.3}, "encoding": {"x": {"datum": 4.9460}, "x2": {"datum": 4.9912}, "y": {"datum": 3.0131}, "y2": {"datum": 3.0669}}}
             ]}
          ]
        }
      ]
    },
    {
      "title": {"text": "b", "orient": "left", "angle": 0, "anchor": "end", "frame": "bounds", "align": "left", "baseline": "top", "font": "Liberation Serif", "fontWeight": "bold", "fontSize": 42, "color": "black", "offset": 18, "dy": -7},
      "vconcat": [
        {
          "title": {"text": "Correlations between KP metabolites and Aβ42 in high NAL participants", "anchor": "start", "frame": "bounds", "font": "Lato", "fontWeight": "bold", "fontSize": 28, "color": "black", "offset": 39},
          "columns": 3,
          "spacing": {"row": 40, "column": 27},
          "concat": [
            {"width": 228, "height": 151, "data": {"name": "b1"},
             "title": {"text": "r= .494, p<.005", "orient": "bottom", "frame": "bounds", "anchor": "middle", "font": "Liberation Serif", "fontSize": 20, "fontWeight": "normal", "color": "black", "offset": 12},
             "layer": [
               {"mark": {"type": "circle", "size": 42, "color": "black", "opacity": 1},
                "encoding": {"x": {"field": "x", "type": "quantitative", "scale": {"domain": [1.73, 4.0], "nice": false, "zero": false}, "axis": {"title": "Log Aβ42 (pg/mL)", "values": [2, 2.5, 3, 3.5, 4], "format": ".1f"}},
                             "y": {"field": "y", "type": "quantitative", "scale": {"domain": [3.26, 5.0], "nice": false, "zero": false}, "axis": {"title": "Log K/T ratio", "values": [3.5, 4, 4.5, 5], "format": ".1f"}}}},
               {"mark": {"type": "line", "color": "#7f7f7f", "strokeWidth": 1.5}, "transform": [{"regression": "y", "on": "x"}],
                "encoding": {"x": {"field": "x", "type": "quantitative"}, "y": {"field": "y", "type": "quantitative"}}},
               {"data": {"values": [{}]}, "mark": {"type": "rule", "color": "white", "strokeWidth": 4}, "encoding": {"x": {"datum": 1.73}, "y": {"datum": 3.4098}, "y2": {"datum": 3.5135}}},
               {"data": {"values": [{}]}, "mark": {"type": "rule", "color": "white", "strokeWidth": 4}, "encoding": {"y": {"datum": 3.26}, "x": {"datum": 1.8893}, "x2": {"datum": 1.9689}}},
               {"data": {"values": [{}]}, "mark": {"type": "rule", "color": "black", "strokeWidth": 1.3}, "encoding": {"x": {"datum": 1.7001}, "x2": {"datum": 1.7599}, "y": {"datum": 3.5746}, "y2": {"datum": 3.4986}}},
               {"data": {"values": [{}]}, "mark": {"type": "rule", "color": "black", "strokeWidth": 1.3}, "encoding": {"x": {"datum": 1.7001}, "x2": {"datum": 1.7599}, "y": {"datum": 3.4248}, "y2": {"datum": 3.3488}}},
               {"data": {"values": [{}]}, "mark": {"type": "rule", "color": "black", "strokeWidth": 1.3}, "encoding": {"x": {"datum": 1.8494}, "x2": {"datum": 1.9092}, "y": {"datum": 3.2197}, "y2": {"datum": 3.3003}}},
               {"data": {"values": [{}]}, "mark": {"type": "rule", "color": "black", "strokeWidth": 1.3}, "encoding": {"x": {"datum": 1.9490}, "x2": {"datum": 2.0088}, "y": {"datum": 3.2197}, "y2": {"datum": 3.3003}}}
             ]},
            {"width": 228, "height": 151, "data": {"name": "b2"},
             "title": {"text": "r= .467, p<.01", "orient": "bottom", "frame": "bounds", "anchor": "middle", "font": "Liberation Serif", "fontSize": 20, "fontWeight": "normal", "color": "black", "offset": 12},
             "layer": [
               {"mark": {"type": "circle", "size": 42, "color": "black", "opacity": 1},
                "encoding": {"x": {"field": "x", "type": "quantitative", "scale": {"domain": [1.75, 4.0], "nice": false, "zero": false}, "axis": {"title": "Log Aβ42 (pg/mL)", "values": [2, 2.5, 3, 3.5, 4], "format": ".1f"}},
                             "y": {"field": "y", "type": "quantitative", "scale": {"domain": [0, 1.5], "nice": false, "zero": false}, "axis": {"title": "Log KYN (µM)", "values": [0, 0.5, 1, 1.5], "format": ".1f"}}}},
               {"mark": {"type": "line", "color": "#7f7f7f", "strokeWidth": 1.5}, "transform": [{"regression": "y", "on": "x"}],
                "encoding": {"x": {"field": "x", "type": "quantitative"}, "y": {"field": "y", "type": "quantitative"}}},
               {"data": {"values": [{}]}, "mark": {"type": "rule", "color": "white", "strokeWidth": 4}, "encoding": {"y": {"datum": 0}, "x": {"datum": 1.9079}, "x2": {"datum": 1.9868}}},
               {"data": {"values": [{}]}, "mark": {"type": "rule", "color": "black", "strokeWidth": 1.3}, "encoding": {"x": {"datum": 1.8684}, "x2": {"datum": 1.9276}, "y": {"datum": -0.0348}, "y2": {"datum": 0.0348}}},
               {"data": {"values": [{}]}, "mark": {"type": "rule", "color": "black", "strokeWidth": 1.3}, "encoding": {"x": {"datum": 1.9671}, "x2": {"datum": 2.0263}, "y": {"datum": -0.0348}, "y2": {"datum": 0.0348}}}
             ]},
            {"width": 228, "height": 151, "data": {"name": "b3"},
             "title": {"text": "r= .387, p<.05", "orient": "bottom", "frame": "bounds", "anchor": "middle", "font": "Liberation Serif", "fontSize": 20, "fontWeight": "normal", "color": "black", "offset": 12},
             "layer": [
               {"mark": {"type": "circle", "size": 42, "color": "black", "opacity": 1},
                "encoding": {"x": {"field": "x", "type": "quantitative", "scale": {"domain": [1.77, 4.0], "nice": false, "zero": false}, "axis": {"title": "Log Aβ42 (pg/mL)", "values": [2, 2.5, 3, 3.5, 4], "format": ".1f"}},
                             "y": {"field": "y", "type": "quantitative", "scale": {"domain": [1.93, 6.0], "nice": false, "zero": false}, "axis": {"title": "Log KA (nM)", "values": [3, 4, 5, 6], "format": "d"}}}},
               {"mark": {"type": "line", "color": "#7f7f7f", "strokeWidth": 1.5}, "transform": [{"regression": "y", "on": "x"}],
                "encoding": {"x": {"field": "x", "type": "quantitative"}, "y": {"field": "y", "type": "quantitative"}}},
               {"data": {"values": [{}]}, "mark": {"type": "rule", "color": "white", "strokeWidth": 4}, "encoding": {"x": {"datum": 1.77}, "y": {"datum": 2.2804}, "y2": {"datum": 2.5230}}},
               {"data": {"values": [{}]}, "mark": {"type": "rule", "color": "white", "strokeWidth": 4}, "encoding": {"y": {"datum": 1.93}, "x": {"datum": 1.9265}, "x2": {"datum": 2.0047}}},
               {"data": {"values": [{}]}, "mark": {"type": "rule", "color": "black", "strokeWidth": 1.3}, "encoding": {"x": {"datum": 1.7407}, "x2": {"datum": 1.7993}, "y": {"datum": 2.6658}, "y2": {"datum": 2.4880}}},
               {"data": {"values": [{}]}, "mark": {"type": "rule", "color": "black", "strokeWidth": 1.3}, "encoding": {"x": {"datum": 1.7407}, "x2": {"datum": 1.7993}, "y": {"datum": 2.3154}, "y2": {"datum": 2.1376}}},
               {"data": {"values": [{}]}, "mark": {"type": "rule", "color": "black", "strokeWidth": 1.3}, "encoding": {"x": {"datum": 1.8874}, "x2": {"datum": 1.9460}, "y": {"datum": 1.8357}, "y2": {"datum": 2.0243}}},
               {"data": {"values": [{}]}, "mark": {"type": "rule", "color": "black", "strokeWidth": 1.3}, "encoding": {"x": {"datum": 1.9852}, "x2": {"datum": 2.0438}, "y": {"datum": 1.8357}, "y2": {"datum": 2.0243}}}
             ]},
            {"width": 228, "height": 151, "data": {"name": "b4"},
             "title": {"text": "r= .576, p<.001", "orient": "bottom", "frame": "bounds", "anchor": "middle", "font": "Liberation Serif", "fontSize": 20, "fontWeight": "normal", "color": "black", "offset": 12},
             "layer": [
               {"mark": {"type": "circle", "size": 42, "color": "black", "opacity": 1},
                "encoding": {"x": {"field": "x", "type": "quantitative", "scale": {"domain": [1.73, 4.0], "nice": false, "zero": false}, "axis": {"title": "Log Aβ42 (pg/mL)", "values": [2, 2.5, 3, 3.5, 4], "format": ".1f"}},
                             "y": {"field": "y", "type": "quantitative", "scale": {"domain": [1.52, 5.0], "nice": false, "zero": false}, "axis": {"title": "Log AA (nM)", "values": [2, 3, 4, 5], "format": "d"}}}},
               {"mark": {"type": "line", "color": "#7f7f7f", "strokeWidth": 1.5}, "transform": [{"regression": "y", "on": "x"}],
                "encoding": {"x": {"field": "x", "type": "quantitative"}, "y": {"field": "y", "type": "quantitative"}}},
               {"data": {"values": [{}]}, "mark": {"type": "rule", "color": "white", "strokeWidth": 4}, "encoding": {"x": {"datum": 1.73}, "y": {"datum": 1.8196}, "y2": {"datum": 2.0270}}},
               {"data": {"values": [{}]}, "mark": {"type": "rule", "color": "white", "strokeWidth": 4}, "encoding": {"y": {"datum": 1.52}, "x": {"datum": 1.8893}, "x2": {"datum": 1.9689}}},
               {"data": {"values": [{}]}, "mark": {"type": "rule", "color": "black", "strokeWidth": 1.3}, "encoding": {"x": {"datum": 1.7001}, "x2": {"datum": 1.7599}, "y": {"datum": 2.1492}, "y2": {"datum": 1.9970}}},
               {"data": {"values": [{}]}, "mark": {"type": "rule", "color": "black", "strokeWidth": 1.3}, "encoding": {"x": {"datum": 1.7001}, "x2": {"datum": 1.7599}, "y": {"datum": 1.8496}, "y2": {"datum": 1.6974}}},
               {"data": {"values": [{}]}, "mark": {"type": "rule", "color": "black", "strokeWidth": 1.3}, "encoding": {"x": {"datum": 1.8494}, "x2": {"datum": 1.9092}, "y": {"datum": 1.4393}, "y2": {"datum": 1.6007}}},
               {"data": {"values": [{}]}, "mark": {"type": "rule", "color": "black", "strokeWidth": 1.3}, "encoding": {"x": {"datum": 1.9490}, "x2": {"datum": 2.0088}, "y": {"datum": 1.4393}, "y2": {"datum": 1.6007}}}
             ]},
            {"width": 228, "height": 151, "data": {"name": "b5"},
             "title": {"text": "r= .539, p<.005", "orient": "bottom", "frame": "bounds", "anchor": "middle", "font": "Liberation Serif", "fontSize": 20, "fontWeight": "normal", "color": "black", "offset": 12},
             "layer": [
               {"mark": {"type": "circle", "size": 42, "color": "black", "opacity": 1},
                "encoding": {"x": {"field": "x", "type": "quantitative", "scale": {"domain": [1.72, 4.0], "nice": false, "zero": false}, "axis": {"title": "Log Aβ42 (pg/mL)", "values": [2, 2.5, 3, 3.5, 4], "format": ".1f"}},
                             "y": {"field": "y", "type": "quantitative", "scale": {"domain": [3.69, 6.0], "nice": false, "zero": false}, "axis": {"title": "Log QA (nM)", "values": [4, 4.5, 5, 5.5, 6], "format": ".1f"}}}},
               {"mark": {"type": "line", "color": "#7f7f7f", "strokeWidth": 1.5}, "transform": [{"regression": "y", "on": "x"}],
                "encoding": {"x": {"field": "x", "type": "quantitative"}, "y": {"field": "y", "type": "quantitative"}}},
               {"data": {"values": [{}]}, "mark": {"type": "rule", "color": "white", "strokeWidth": 4}, "encoding": {"x": {"datum": 1.72}, "y": {"datum": 3.8889}, "y2": {"datum": 4.0266}}},
               {"data": {"values": [{}]}, "mark": {"type": "rule", "color": "white", "strokeWidth": 4}, "encoding": {"y": {"datum": 3.69}, "x": {"datum": 1.88}, "x2": {"datum": 1.96}}},
               {"data": {"values": [{}]}, "mark": {"type": "rule", "color": "black", "strokeWidth": 1.3}, "encoding": {"x": {"datum": 1.69}, "x2": {"datum": 1.75}, "y": {"datum": 4.1077}, "y2": {"datum": 4.0067}}},
               {"data": {"values": [{}]}, "mark": {"type": "rule", "color": "black", "strokeWidth": 1.3}, "encoding": {"x": {"datum": 1.69}, "x2": {"datum": 1.75}, "y": {"datum": 3.9088}, "y2": {"datum": 3.8078}}},
               {"data": {"values": [{}]}, "mark": {"type": "rule", "color": "black", "strokeWidth": 1.3}, "encoding": {"x": {"datum": 1.84}, "x2": {"datum": 1.90}, "y": {"datum": 3.6365}, "y2": {"datum": 3.7435}}},
               {"data": {"values": [{}]}, "mark": {"type": "rule", "color": "black", "strokeWidth": 1.3}, "encoding": {"x": {"datum": 1.94}, "x2": {"datum": 2.00}, "y": {"datum": 3.6365}, "y2": {"datum": 3.7435}}}
             ]},
            {"width": 228, "height": 151, "data": {"name": "b6"},
             "title": {"text": "r= .223, p=.22", "orient": "bottom", "frame": "bounds", "anchor": "middle", "font": "Liberation Serif", "fontSize": 20, "fontWeight": "normal", "color": "black", "offset": 12},
             "layer": [
               {"mark": {"type": "circle", "size": 42, "color": "black", "opacity": 1},
                "encoding": {"x": {"field": "x", "type": "quantitative", "scale": {"domain": [2.09, 3.2], "nice": false, "zero": false}, "axis": {"title": "Log Aβ42 (pg/mL)", "values": [2.2, 2.4, 2.6, 2.8, 3.0, 3.2], "format": ".1f"}},
                             "y": {"field": "y", "type": "quantitative", "scale": {"domain": [3.69, 6.0], "nice": false, "zero": false}, "axis": {"title": "Log 3-HK (nM)", "values": [4, 4.5, 5, 5.5, 6], "format": ".1f"}}}},
               {"mark": {"type": "line", "color": "#7f7f7f", "strokeWidth": 1.5}, "transform": [{"regression": "y", "on": "x"}],
                "encoding": {"x": {"field": "x", "type": "quantitative"}, "y": {"field": "y", "type": "quantitative"}}},
               {"data": {"values": [{}]}, "mark": {"type": "rule", "color": "white", "strokeWidth": 4}, "encoding": {"x": {"datum": 2.09}, "y": {"datum": 3.8889}, "y2": {"datum": 4.0266}}},
               {"data": {"values": [{}]}, "mark": {"type": "rule", "color": "white", "strokeWidth": 4}, "encoding": {"y": {"datum": 3.69}, "x": {"datum": 2.1679}, "x2": {"datum": 2.2068}}},
               {"data": {"values": [{}]}, "mark": {"type": "rule", "color": "black", "strokeWidth": 1.3}, "encoding": {"x": {"datum": 2.0754}, "x2": {"datum": 2.1046}, "y": {"datum": 4.1077}, "y2": {"datum": 4.0067}}},
               {"data": {"values": [{}]}, "mark": {"type": "rule", "color": "black", "strokeWidth": 1.3}, "encoding": {"x": {"datum": 2.0754}, "x2": {"datum": 2.1046}, "y": {"datum": 3.9088}, "y2": {"datum": 3.8078}}},
               {"data": {"values": [{}]}, "mark": {"type": "rule", "color": "black", "strokeWidth": 1.3}, "encoding": {"x": {"datum": 2.1484}, "x2": {"datum": 2.1776}, "y": {"datum": 3.6365}, "y2": {"datum": 3.7435}}},
               {"data": {"values": [{}]}, "mark": {"type": "rule", "color": "black", "strokeWidth": 1.3}, "encoding": {"x": {"datum": 2.1971}, "x2": {"datum": 2.2263}, "y": {"datum": 3.6365}, "y2": {"datum": 3.7435}}}
             ]},
            {"width": 228, "height": 151, "data": {"name": "b7"},
             "title": {"text": "r= -.087, p=.63", "orient": "bottom", "frame": "bounds", "anchor": "middle", "font": "Liberation Serif", "fontSize": 20, "fontWeight": "normal", "color": "black", "offset": 12},
             "layer": [
               {"mark": {"type": "circle", "size": 42, "color": "black", "opacity": 1},
                "encoding": {"x": {"field": "x", "type": "quantitative", "scale": {"domain": [2.07, 3.2], "nice": false, "zero": false}, "axis": {"title": "Log Aβ42 (pg/mL)", "values": [2.2, 2.4, 2.6, 2.8, 3.0, 3.2], "format": ".1f"}},
                             "y": {"field": "y", "type": "quantitative", "scale": {"domain": [1.69, 4.0], "nice": false, "zero": false}, "axis": {"title": "Log 3-HAA (nM)", "values": [2, 2.5, 3, 3.5, 4], "format": ".1f"}}}},
               {"mark": {"type": "line", "color": "#7f7f7f", "strokeWidth": 1.5}, "transform": [{"regression": "y", "on": "x"}],
                "encoding": {"x": {"field": "x", "type": "quantitative"}, "y": {"field": "y", "type": "quantitative"}}},
               {"data": {"values": [{}]}, "mark": {"type": "rule", "color": "white", "strokeWidth": 4}, "encoding": {"x": {"datum": 2.07}, "y": {"datum": 1.8889}, "y2": {"datum": 2.0266}}},
               {"data": {"values": [{}]}, "mark": {"type": "rule", "color": "white", "strokeWidth": 4}, "encoding": {"y": {"datum": 1.69}, "x": {"datum": 2.1493}, "x2": {"datum": 2.1889}}},
               {"data": {"values": [{}]}, "mark": {"type": "rule", "color": "black", "strokeWidth": 1.3}, "encoding": {"x": {"datum": 2.0551}, "x2": {"datum": 2.0849}, "y": {"datum": 2.1077}, "y2": {"datum": 2.0067}}},
               {"data": {"values": [{}]}, "mark": {"type": "rule", "color": "black", "strokeWidth": 1.3}, "encoding": {"x": {"datum": 2.0551}, "x2": {"datum": 2.0849}, "y": {"datum": 1.9088}, "y2": {"datum": 1.8078}}},
               {"data": {"values": [{}]}, "mark": {"type": "rule", "color": "black", "strokeWidth": 1.3}, "encoding": {"x": {"datum": 2.1294}, "x2": {"datum": 2.1592}, "y": {"datum": 1.6365}, "y2": {"datum": 1.7435}}},
               {"data": {"values": [{}]}, "mark": {"type": "rule", "color": "black", "strokeWidth": 1.3}, "encoding": {"x": {"datum": 2.1790}, "x2": {"datum": 2.2088}, "y": {"datum": 1.6365}, "y2": {"datum": 1.7435}}}
             ]},
            {"width": 228, "height": 151, "data": {"name": "b8"},
             "title": {"text": "r= .087, p=.63", "orient": "bottom", "frame": "bounds", "anchor": "middle", "font": "Liberation Serif", "fontSize": 20, "fontWeight": "normal", "color": "black", "offset": 12},
             "layer": [
               {"mark": {"type": "circle", "size": 42, "color": "black", "opacity": 1},
                "encoding": {"x": {"field": "x", "type": "quantitative", "scale": {"domain": [2.07, 3.2], "nice": false, "zero": false}, "axis": {"title": "Log Aβ42 (pg/mL)", "values": [2.2, 2.4, 2.6, 2.8, 3.0, 3.2], "format": ".1f"}},
                             "y": {"field": "y", "type": "quantitative", "scale": {"domain": [3.77, 5.5], "nice": false, "zero": false}, "axis": {"title": "Log PA (nM)", "values": [4, 4.5, 5, 5.5], "format": ".1f"}}}},
               {"mark": {"type": "line", "color": "#7f7f7f", "strokeWidth": 1.5}, "transform": [{"regression": "y", "on": "x"}],
                "encoding": {"x": {"field": "x", "type": "quantitative"}, "y": {"field": "y", "type": "quantitative"}}},
               {"data": {"values": [{}]}, "mark": {"type": "rule", "color": "white", "strokeWidth": 4}, "encoding": {"x": {"datum": 2.07}, "y": {"datum": 3.9189}, "y2": {"datum": 4.0221}}},
               {"data": {"values": [{}]}, "mark": {"type": "rule", "color": "white", "strokeWidth": 4}, "encoding": {"y": {"datum": 3.77}, "x": {"datum": 2.1493}, "x2": {"datum": 2.1889}}},
               {"data": {"values": [{}]}, "mark": {"type": "rule", "color": "black", "strokeWidth": 1.3}, "encoding": {"x": {"datum": 2.0551}, "x2": {"datum": 2.0849}, "y": {"datum": 4.0828}, "y2": {"datum": 4.0072}}},
               {"data": {"values": [{}]}, "mark": {"type": "rule", "color": "black", "strokeWidth": 1.3}, "encoding": {"x": {"datum": 2.0551}, "x2": {"datum": 2.0849}, "y": {"datum": 3.9338}, "y2": {"datum": 3.8582}}},
               {"data": {"values": [{}]}, "mark": {"type": "rule", "color": "black", "strokeWidth": 1.3}, "encoding": {"x": {"datum": 2.1294}, "x2": {"datum": 2.1592}, "y": {"datum": 3.7299}, "y2": {"datum": 3.8101}}},
               {"data": {"values": [{}]}, "mark": {"type": "rule", "color": "black", "strokeWidth": 1.3}, "encoding": {"x": {"datum": 2.1790}, "x2": {"datum": 2.2088}, "y": {"datum": 3.7299}, "y2": {"datum": 3.8101}}}
             ]},
            {"width": 228, "height": 151, "data": {"name": "b9"},
             "title": {"text": "r= -.224, p=.22", "orient": "bottom", "frame": "bounds", "anchor": "middle", "font": "Liberation Serif", "fontSize": 20, "fontWeight": "normal", "color": "black", "offset": 12},
             "layer": [
               {"mark": {"type": "circle", "size": 42, "color": "black", "opacity": 1},
                "encoding": {"x": {"field": "x", "type": "quantitative", "scale": {"domain": [2.07, 3.2], "nice": false, "zero": false}, "axis": {"title": "Log Aβ42 (pg/mL)", "values": [2.2, 2.4, 2.6, 2.8, 3.0, 3.2], "format": ".1f"}},
                             "y": {"field": "y", "type": "quantitative", "scale": {"domain": [3.05, 4.2], "nice": false, "zero": false}, "axis": {"title": "Log TRP (µM)", "values": [3.2, 3.4, 3.6, 3.8, 4.0, 4.2], "format": ".1f"}}}},
               {"mark": {"type": "line", "color": "#7f7f7f", "strokeWidth": 1.5}, "transform": [{"regression": "y", "on": "x"}],
                "encoding": {"x": {"field": "x", "type": "quantitative"}, "y": {"field": "y", "type": "quantitative"}}},
               {"data": {"values": [{}]}, "mark": {"type": "rule", "color": "white", "strokeWidth": 4}, "encoding": {"x": {"datum": 2.07}, "y": {"datum": 3.1490}, "y2": {"datum": 3.2176}}},
               {"data": {"values": [{}]}, "mark": {"type": "rule", "color": "white", "strokeWidth": 4}, "encoding": {"y": {"datum": 3.05}, "x": {"datum": 2.1493}, "x2": {"datum": 2.1889}}},
               {"data": {"values": [{}]}, "mark": {"type": "rule", "color": "black", "strokeWidth": 1.3}, "encoding": {"x": {"datum": 2.0551}, "x2": {"datum": 2.0849}, "y": {"datum": 3.2579}, "y2": {"datum": 3.2077}}},
               {"data": {"values": [{}]}, "mark": {"type": "rule", "color": "black", "strokeWidth": 1.3}, "encoding": {"x": {"datum": 2.0551}, "x2": {"datum": 2.0849}, "y": {"datum": 3.1589}, "y2": {"datum": 3.1087}}},
               {"data": {"values": [{}]}, "mark": {"type": "rule", "color": "black", "strokeWidth": 1.3}, "encoding": {"x": {"datum": 2.1294}, "x2": {"datum": 2.1592}, "y": {"datum": 3.0233}, "y2": {"datum": 3.0767}}},
               {"data": {"values": [{}]}, "mark": {"type": "rule", "color": "black", "strokeWidth": 1.3}, "encoding": {"x": {"datum": 2.1790}, "x2": {"datum": 2.2088}, "y": {"datum": 3.0233}, "y2": {"datum": 3.0767}}}
             ]}
          ]
        }
      ]
    }
  ]
}
